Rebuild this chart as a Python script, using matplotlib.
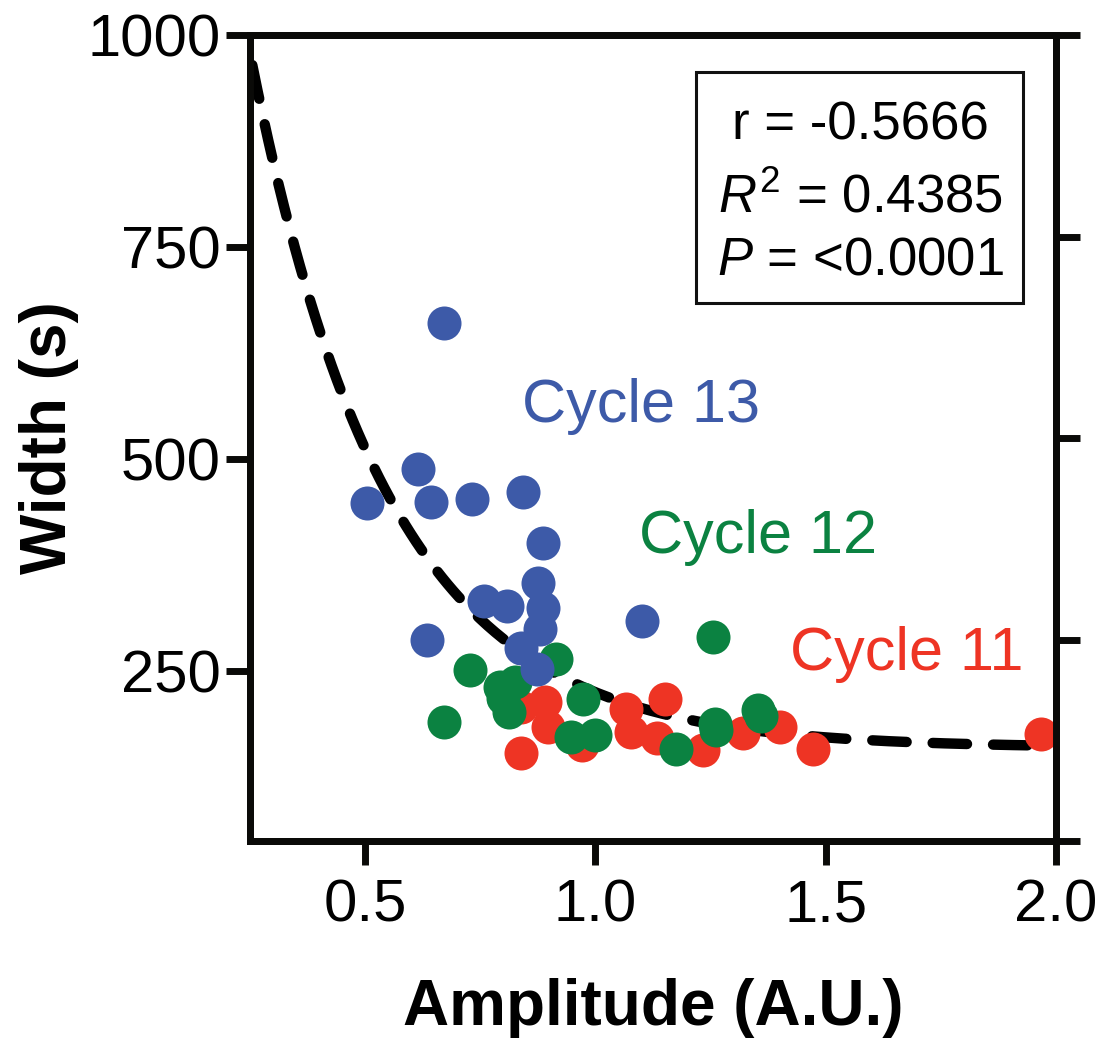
import numpy as np
import matplotlib
matplotlib.use("Agg")
import matplotlib.pyplot as plt
from matplotlib.patches import Rectangle

plt.rcParams['font.family'] = ['Liberation Sans', 'DejaVu Sans']
plt.rcParams['mathtext.fontset'] = 'custom'
plt.rcParams['mathtext.rm'] = 'Liberation Sans'
plt.rcParams['mathtext.it'] = 'Liberation Sans:italic'

# cycle 13 (blue)
amp_c13 = [0.672, 0.615, 0.504, 0.643, 0.732, 0.843, 0.887, 0.875,
           0.758, 0.807, 0.887, 0.879, 0.839, 0.874, 0.635, 1.102]
width_c13 = [660, 488, 448, 450, 453, 461, 401, 354,
             333, 327, 325, 300, 277, 253, 287, 309]

# cycle 12 (green)
amp_c12 = [0.728, 0.915, 0.672, 0.792, 0.825, 0.800, 0.812, 0.972,
           0.946, 0.998, 1.176, 1.256, 1.259, 1.261, 1.352, 1.359]
width_c12 = [251, 264, 190, 232, 237, 218, 202, 217,
             173, 175, 158, 290, 188, 181, 204, 197]

# cycle 11 (red)
amp_c11 = [0.839, 0.890, 0.897, 0.839, 0.970, 1.067, 1.078, 1.133,
           1.152, 1.234, 1.321, 1.401, 1.473, 1.967]
width_c11 = [208, 214, 184, 154, 163, 205, 179, 171,
             217, 157, 177, 184, 158, 176]

# one phase decay fit: plateau + span*exp(-k*x)
fit_plateau = 160
fit_span = 1900
fit_k = 3.37
fit_xrange = (0.255, 1.97)

stats_lines = ["r = -0.5666", r"$\it{R}^2$ = 0.4385", r"$\it{P}$ = <0.0001"]

blue = '#3d5aa8'
green = '#0b8241'
red = '#ee3424'

fig = plt.figure(figsize=(11.01, 10.38), dpi=100)
ax = fig.add_axes([250/1101, 1 - 841/1038, 806/1101, 806/1038])

xf = np.linspace(fit_xrange[0], fit_xrange[1], 300)
yf = fit_plateau + fit_span*np.exp(-fit_k*xf)
ax.plot(xf, yf, color='black', lw=7.5, dashes=(3.3, 2.5),
        dash_capstyle='round', zorder=2)

ax.scatter(amp_c11, width_c11, s=600, color=red, lw=0, zorder=3)
ax.scatter(amp_c12, width_c12, s=600, color=green, lw=0, zorder=4)
ax.scatter(amp_c13, width_c13, s=600, color=blue, lw=0, zorder=5)

ax.text(1.10, 544, "Cycle 13", color=blue, fontsize=44, ha='center', va='baseline')
ax.text(1.354, 390, "Cycle 12", color=green, fontsize=44, ha='center', va='baseline')
ax.text(1.676, 251, "Cycle 11", color=red, fontsize=44, ha='center', va='baseline')

ax.set_xlim(0.25, 2.0)
ax.set_ylim(50, 1000)
ax.set_xticks([0.5, 1.0, 1.5, 2.0])
ax.set_xticklabels(['0.5', '1.0', '1.5', '2.0'])
ax.set_yticks([250, 500, 750, 1000])
ax.tick_params(axis='both', direction='out', length=17, width=5,
               labelsize=43, color='#0a0a08')
ax.tick_params(axis='y', pad=4)
ax.tick_params(axis='x', pad=10)
for sp in ax.spines.values():
    sp.set_linewidth(5)
    sp.set_color('#0a0a08')

ax.set_xlabel("Amplitude (A.U.)", fontsize=46, fontweight='bold', labelpad=32)
ax.set_ylabel("Width (s)", fontsize=46, fontweight='bold', labelpad=6)

# right axis with unlabelled ticks
ax2 = ax.twinx()
ax2.set_ylim(0, 4)
ax2.set_yticks([0, 1, 2, 3, 4])
ax2.set_yticklabels([])
ax2.tick_params(axis='y', direction='out', length=17, width=5, color='#0a0a08')
for sp in ax2.spines.values():
    sp.set_linewidth(5)
    sp.set_color('#0a0a08')

# stats box
ax.add_patch(Rectangle((0.553, 0.667), 0.406, 0.287, transform=ax.transAxes,
                       fill=False, lw=2.2, ec='#111111', zorder=6))
for txt, yb in zip(stats_lines, [0.870, 0.780, 0.703]):
    ax.text(0.757, yb, txt, transform=ax.transAxes, fontsize=38,
            ha='center', va='baseline', zorder=7)

fig.savefig("out.png", dpi=100)
